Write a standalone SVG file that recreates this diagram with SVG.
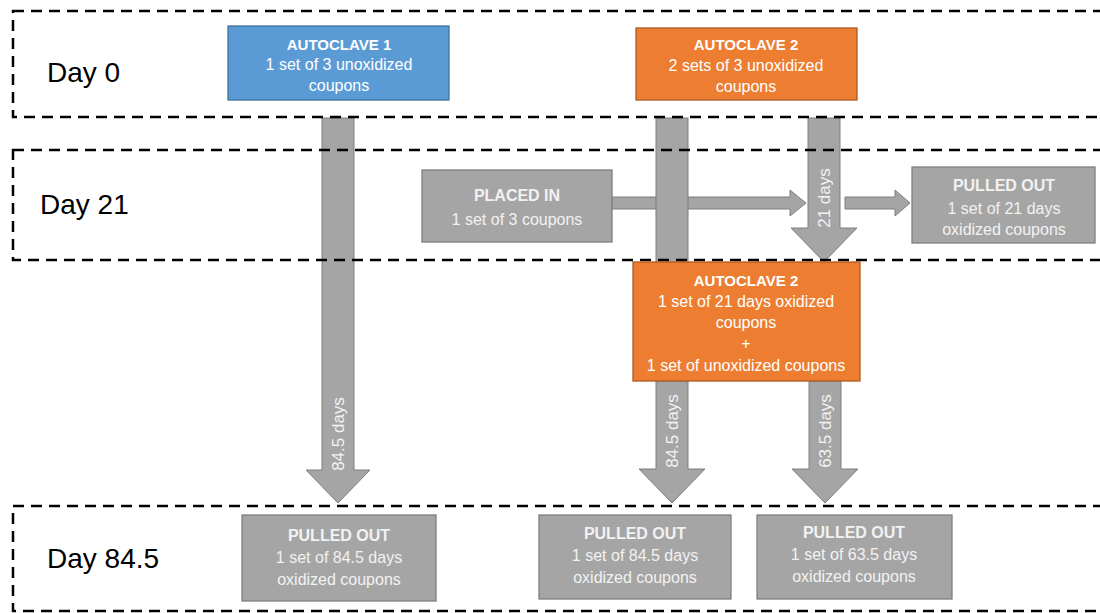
<svg xmlns="http://www.w3.org/2000/svg" width="1100" height="613" viewBox="0 0 1100 613">
<style>
.band{fill:none;stroke:#000;stroke-width:2.5;stroke-dasharray:11 7}
.day{font-family:"Liberation Sans",Arial,sans-serif;font-size:28px;fill:#000}
.blue{fill:#5B9BD5;stroke:#41719C;stroke-width:1.3}
.orange{fill:#ED7D31;stroke:#AE5A21;stroke-width:1.3}
.gray{fill:#A5A5A5;stroke:#7F7F7F;stroke-width:1.3}
.arrow{fill:#A5A5A5;stroke:#7F7F7F;stroke-width:1}
.t{font-family:"Liberation Sans",Arial,sans-serif;font-size:16px;fill:#FFFFFF;text-anchor:middle}
.tg{font-family:"Liberation Sans",Arial,sans-serif;font-size:16px;fill:#F2F2F2;text-anchor:middle}
.b{font-weight:bold;font-size:15px}
.bt{font-weight:bold;font-size:16px}
.al{font-family:"Liberation Sans",Arial,sans-serif;font-size:17px;fill:#F2F2F2;text-anchor:middle}
</style>
<rect width="1100" height="613" fill="#FFFFFF"/>
<g id="connectors">
<polygon class="arrow" points="612,197 790,197 790,190 806,203 790,216 790,209 612,209"/>
<polygon class="arrow" points="845,197 895,197 895,190 910,203 895,216 895,209 845,209"/>
<polygon class="arrow" points="322,118 354,118 354,470 370,470 338,503 306,470 322,470"/>
<rect class="arrow" x="656" y="118" width="32" height="146"/>
<polygon class="arrow" points="808,118 840,118 840,228 857,228 824,262 791,228 808,228"/>
<polygon class="arrow" points="656,381 688,381 688,469 705,469 672,503 639,469 656,469"/>
<polygon class="arrow" points="809,381 841,381 841,469 858,469 825,503 792,469 809,469"/>
<text class="al" transform="translate(830,198) rotate(-90)">21 days</text>
<text class="al" transform="translate(344,434) rotate(-90)">84.5 days</text>
<text class="al" transform="translate(678,431) rotate(-90)">84.5 days</text>
<text class="al" transform="translate(831,431) rotate(-90)">63.5 days</text>
</g>
<g id="bands">
<rect class="band" x="13" y="11" width="1110" height="106"/>
<rect class="band" x="13" y="150" width="1110" height="110"/>
<rect class="band" x="13" y="506" width="1110" height="105"/>
<text class="day" x="47" y="82">Day 0</text>
<text class="day" x="40" y="214">Day 21</text>
<text class="day" x="47" y="568">Day 84.5</text>
</g>
<g id="autoclave1">
<rect class="blue" x="228" y="26" width="221" height="74"/>
<text class="t b" x="339" y="50">AUTOCLAVE 1</text>
<text class="t" x="339" y="70">1 set of 3 unoxidized</text>
<text class="t" x="339" y="91">coupons</text>
</g>
<g id="autoclave2-day0">
<rect class="orange" x="636" y="28" width="221" height="72"/>
<text class="t b" x="746" y="50">AUTOCLAVE 2</text>
<text class="t" x="746" y="71">2 sets of 3 unoxidized</text>
<text class="t" x="746" y="92">coupons</text>
</g>
<g id="placed-in">
<rect class="gray" x="422" y="170" width="190" height="72"/>
<text class="tg bt" x="517" y="201">PLACED IN</text>
<text class="tg" x="517" y="225">1 set of 3 coupons</text>
</g>
<g id="pulled-out-21">
<rect class="gray" x="912" y="167" width="183" height="76"/>
<text class="tg bt" x="1004" y="191">PULLED OUT</text>
<text class="tg" x="1004" y="214">1 set of 21 days</text>
<text class="tg" x="1004" y="235">oxidized coupons</text>
</g>
<g id="autoclave2-day21">
<rect class="orange" x="633" y="262" width="227" height="119"/>
<text class="t b" x="746" y="286">AUTOCLAVE 2</text>
<text class="t" x="746" y="307">1 set of 21 days oxidized</text>
<text class="t" x="746" y="328">coupons</text>
<text class="t" x="746" y="349">+</text>
<text class="t" x="746" y="371">1 set of unoxidized coupons</text>
</g>
<g id="pulled-out-a1">
<rect class="gray" x="242" y="515" width="194" height="86"/>
<text class="tg bt" x="339" y="541">PULLED OUT</text>
<text class="tg" x="339" y="563">1 set of 84.5 days</text>
<text class="tg" x="339" y="585">oxidized coupons</text>
</g>
<g id="pulled-out-a2-845">
<rect class="gray" x="539" y="515" width="192" height="84"/>
<text class="tg bt" x="635" y="539">PULLED OUT</text>
<text class="tg" x="635" y="561">1 set of 84.5 days</text>
<text class="tg" x="635" y="583">oxidized coupons</text>
</g>
<g id="pulled-out-a2-635">
<rect class="gray" x="757" y="515" width="195" height="84"/>
<text class="tg bt" x="854" y="538">PULLED OUT</text>
<text class="tg" x="854" y="560">1 set of 63.5 days</text>
<text class="tg" x="854" y="582">oxidized coupons</text>
</g>
</svg>
